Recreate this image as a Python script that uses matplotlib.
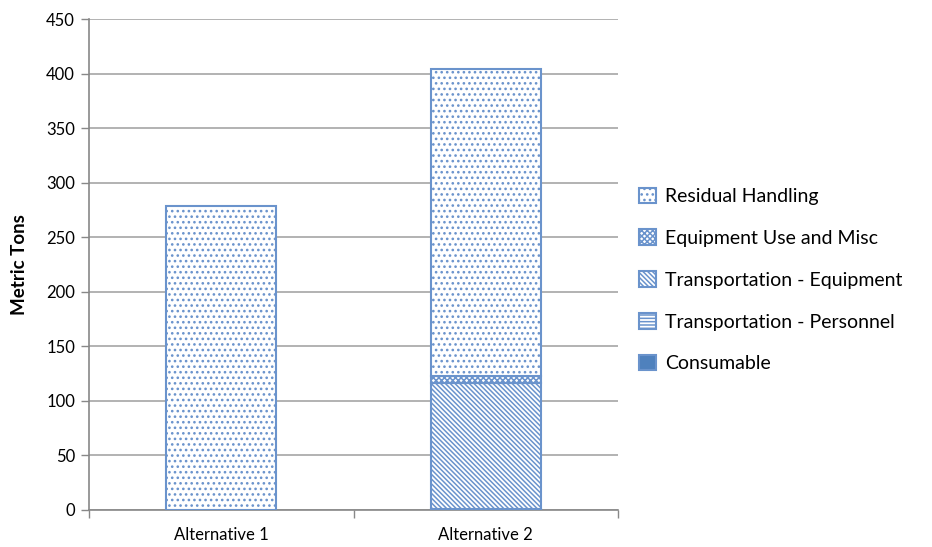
import numpy as np
import matplotlib.pyplot as plt

alternatives = ["Alternative 1", "Alternative 2"]
# stacked from the bottom up
categories = ["Consumable", "Transportation - Personnel", "Transportation - Equipment",
              "Equipment Use and Misc", "Residual Handling"]
consumable = [0.0, 0.3]
transport_personnel = [0.0, 0.5]
transport_equipment = [0.0, 116.0]
equipment_use = [0.0, 6.0]
residual_handling = [279.0, 281.5]
hatches = ["", "-----", "\\\\\\\\\\\\\\", "xxxxxx", "..."]

blue = "#4F81BD"
edge = "#6A93CC"

plt.rcParams["font.family"] = ["Lato", "DejaVu Sans"]
plt.rcParams["hatch.linewidth"] = 1.1

fig = plt.figure(figsize=(9.32, 5.47), dpi=100)
ax = fig.add_axes([89 / 932, 1 - 510 / 547, (618 - 89) / 932, (510 - 19) / 547])

x = np.arange(len(alternatives))
series = [consumable, transport_personnel, transport_equipment, equipment_use, residual_handling]
bottom = np.zeros(len(alternatives))
handles = []
for name, vals, h in zip(categories, series, hatches):
    face = blue if h == "" else "white"
    bars = ax.bar(x, vals, width=0.415, bottom=bottom, color=face, edgecolor=edge,
                  hatch=h, linewidth=1.5, label=name, zorder=3)
    handles.append(bars)
    bottom += np.array(vals)

ax.set_xlim(-0.5, 1.5)
ax.set_ylim(0, 450)
ax.set_yticks(np.arange(0, 451, 50))
ax.set_xticks(x)
ax.set_xticklabels(alternatives, fontsize=12)
ax.set_xticks([-0.5, 0.5, 1.5], minor=True)
ax.tick_params(axis="x", which="major", length=0, pad=12)
ax.tick_params(axis="x", which="minor", length=6, color="#888888", width=1)
ax.tick_params(axis="y", length=6, color="#888888", width=1, labelsize=12, pad=4)

ax.grid(axis="y", color="#a6a6a6", linewidth=1.2, zorder=0)
for side in ["top", "right"]:
    ax.spines[side].set_visible(False)
for side in ["left", "bottom"]:
    ax.spines[side].set_color("#888888")
    ax.spines[side].set_linewidth(1.2)

ax.set_ylabel("Metric Tons", fontsize=13.5, fontweight="bold", labelpad=13)

fig.legend(handles[::-1], categories[::-1], loc="center left",
           bbox_to_anchor=(639 / 932, 1 - 280 / 547), frameon=False, fontsize=14,
           borderaxespad=0, borderpad=0,
           handlelength=0.85, handleheight=0.85, handletextpad=0.5, labelspacing=1.25)

fig.savefig("out.png", dpi=100)
